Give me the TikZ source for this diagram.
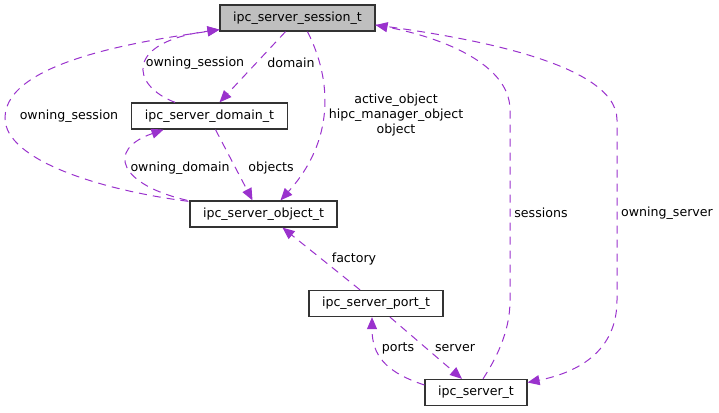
\documentclass[tikz,border=0pt]{standalone}
\usepackage{fontspec}
\setmainfont{DejaVu Sans}
\usetikzlibrary{arrows.meta,positioning}
\definecolor{edgepurple}{HTML}{9A32CD}
\definecolor{nodegray}{HTML}{BFBFBF}

\begin{document}
\begin{tikzpicture}[
  x=1pt, y=-1pt,
  font=\fontsize{12.6}{15}\selectfont,
  every node/.append style={align=center},
  cls/.style={rectangle, draw=black!80, line width=1.3pt, fill=white, minimum height=26pt, inner xsep=13pt, inner ysep=0pt},
  arr/.style={draw=edgepurple, line width=1pt, dash pattern=on 8pt off 6pt, -{Triangle[length=12pt,width=10pt,fill=edgepurple]}},
  lab/.style={inner sep=0pt}
]
\useasboundingbox (0,0) rectangle (719,412);
\node[cls, fill=nodegray] (sess) at (297.5,18)  {ipc\_server\_session\_t};
\node[cls]                (dom)  at (209.5,116) {ipc\_server\_domain\_t};
\node[cls]                (obj)  at (263.5,214) {ipc\_server\_object\_t};
\node[cls]                (port) at (376,303.5) {ipc\_server\_port\_t};
\node[cls]                (srv)  at (476,392.5) {ipc\_server\_t};
\draw[arr] ([xshift=-34.5pt]dom.north) .. controls (130,85) and (125,42) .. ([yshift=2pt]sess.south west);
\draw[arr] ([xshift=-12pt]sess.south) -- ([xshift=10pt]dom.north);
\draw[arr] ([xshift=-1pt,yshift=-1pt]obj.north west) .. controls (100,190) and (5,160) .. (5,118) .. controls (5,60) and (150,40) .. ([yshift=2pt]sess.south west);
\draw[arr] ([xshift=-2pt]obj.north west) .. controls (120,185) and (105,150) .. ([xshift=-46pt]dom.south);
\draw[arr] ([xshift=6pt]dom.south) -- ([xshift=-11pt]obj.north);
\draw[arr] ([xshift=10pt]sess.south) .. controls (332,80) and (335,140) .. ([xshift=17pt]obj.north);
\draw[arr] ([xshift=-16pt]port.north) -- ([xshift=19pt]obj.south);
\draw[arr] ([yshift=7.5pt]srv.west) .. controls (385,372) and (372,355) .. ([xshift=-4pt]port.south);
\draw[arr] ([xshift=14pt]port.south) -- ([xshift=-14pt]srv.north);
\draw[arr] ([xshift=7pt]srv.north) .. controls (505,345) and (510,320) .. (510,300) -- (510,110) .. controls (510,60) and (430,35) .. ([yshift=-7pt]sess.east);
\draw[arr] ([yshift=-7pt]sess.east) .. controls (450,35) and (617,60) .. (617,120) -- (617,300) .. controls (617,350) and (580,372) .. ([yshift=10pt]srv.east);
\node[lab] (l-os1) at (195,63)  {owning\_session};
\node[lab] (l-dom) at (291,63)  {domain};
\node[lab] (l-os2) at (69,116)  {owning\_session};
\node[lab] (l-od)  at (180,168) {owning\_domain};
\node[lab] (l-obs) at (271,168) {objects};
\node[lab] (l-ao)  at (396,115) {active\_object\\hipc\_manager\_object\\object};
\node[lab] (l-fac) at (354,259) {factory};
\node[lab] (l-pts) at (398,348) {ports};
\node[lab] (l-srv) at (455,348) {server};
\node[lab] (l-ses) at (541,213) {sessions};
\node[lab] (l-osv) at (667,213) {owning\_server};
\end{tikzpicture}
\end{document}
